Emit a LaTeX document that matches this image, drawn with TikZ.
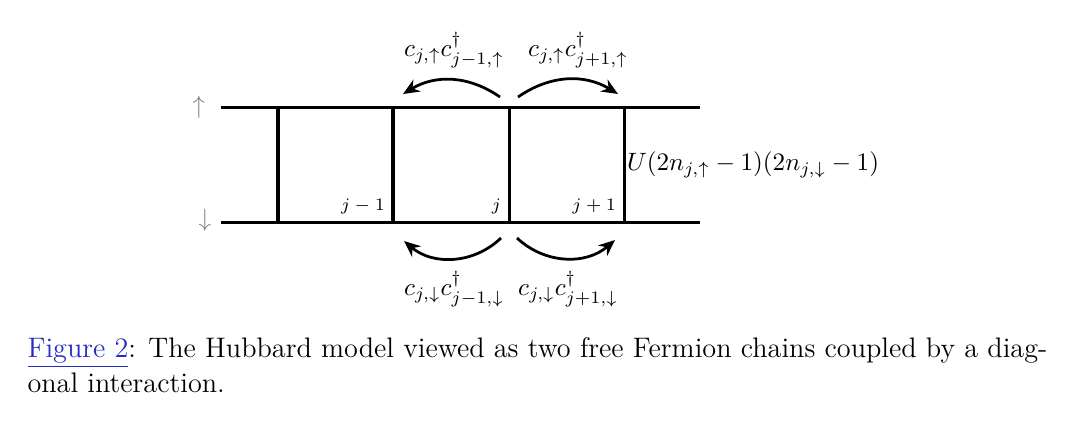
\documentclass[tikz,border=0pt]{standalone}
\usepackage{amsmath, amssymb}
\usepackage{xcolor}
\usetikzlibrary{positioning, arrows.meta, calc}

\definecolor{linkblue}{RGB}{35,45,190}

\begin{document}
\begin{tikzpicture}[
  x=0.014cm, y=-0.014cm,
  rail/.style={line width=1.2pt, black},
  rung/.style={line width=1.2pt, black},
  hop/.style={-{Stealth[length=6.5pt, width=5.5pt]}, line width=1.1pt, black},
  spinlbl/.style={text=black!50, inner sep=0pt},
  sitelbl/.style={anchor=south east, font=\scriptsize, inner sep=3pt},
  hoplbl/.style={inner sep=0pt},
  caption/.style={anchor=base west, inner sep=0pt, font=\fontsize{11.25}{13.5}\selectfont},
]
\useasboundingbox (0,0) rectangle (1080,429);

%% ── Ladder rails ─────────────────────────────────────────────────────────────
\coordinate (upL) at (221,107);
\coordinate (upR) at (700,107);
\coordinate (dnL) at (221,222);
\coordinate (dnR) at (700,222);
\draw[rail] (upL) -- (upR);
\draw[rail] (dnL) -- (dnR);

\node[spinlbl] (spinup) at (199,107) {$\uparrow$};
\node[spinlbl] (spindn) at (205,220) {$\downarrow$};

%% ── Rungs and site labels ────────────────────────────────────────────────────
\foreach \x [count=\i] in {278,393,509,624} {
  \coordinate (t\i) at (\x,107);
  \coordinate (b\i) at (\x,222);
  \draw[rung] (t\i) -- (b\i);
}
\node[sitelbl] (sjm) at (b2) {$j-1$};
\node[sitelbl] (sj)  at (b3) {$j$};
\node[sitelbl] (sjp) at (b4) {$j+1$};

\node[anchor=west, inner sep=1pt] (inter) at (624,165)
  {$U(2n_{j,\uparrow}-1)(2n_{j,\downarrow}-1)$};

%% ── Hopping arrows ───────────────────────────────────────────────────────────
\coordinate (upLtail) at (500,97);
\coordinate (upLhead) at (403,94);
\coordinate (upRtail) at (518,97);
\coordinate (upRhead) at (618,94);
\coordinate (dnLtail) at (501,238);
\coordinate (dnLhead) at (404,241);
\coordinate (dnRtail) at (517,238);
\coordinate (dnRhead) at (615,240);

\draw[hop] (upLtail) to[bend right=33] (upLhead);
\draw[hop] (upRtail) to[bend left=33]  (upRhead);
\draw[hop] (dnLtail) to[bend left=42]  (dnLhead);
\draw[hop] (dnRtail) to[bend right=42] (dnRhead);

\node[hoplbl] (hupL) at (454,50) {$c_{j,\uparrow}c^{\dagger}_{j-1,\uparrow}$};
\node[hoplbl] (hupR) at (578,50) {$c_{j,\uparrow}c^{\dagger}_{j+1,\uparrow}$};
\node[hoplbl] (hdnL) at (454,289) {$c_{j,\downarrow}c^{\dagger}_{j-1,\downarrow}$};
\node[hoplbl] (hdnR) at (568,289) {$c_{j,\downarrow}c^{\dagger}_{j+1,\downarrow}$};

%% ── Caption ──────────────────────────────────────────────────────────────────
\node[caption] (cap1) at (27,357)
  {\textcolor{linkblue}{\underline{Figure 2}}: The Hubbard model viewed as two free Fermion chains coupled by a diag-};
\node[caption] (cap2) at (27,392) {onal interaction.};

\end{tikzpicture}
\end{document}
